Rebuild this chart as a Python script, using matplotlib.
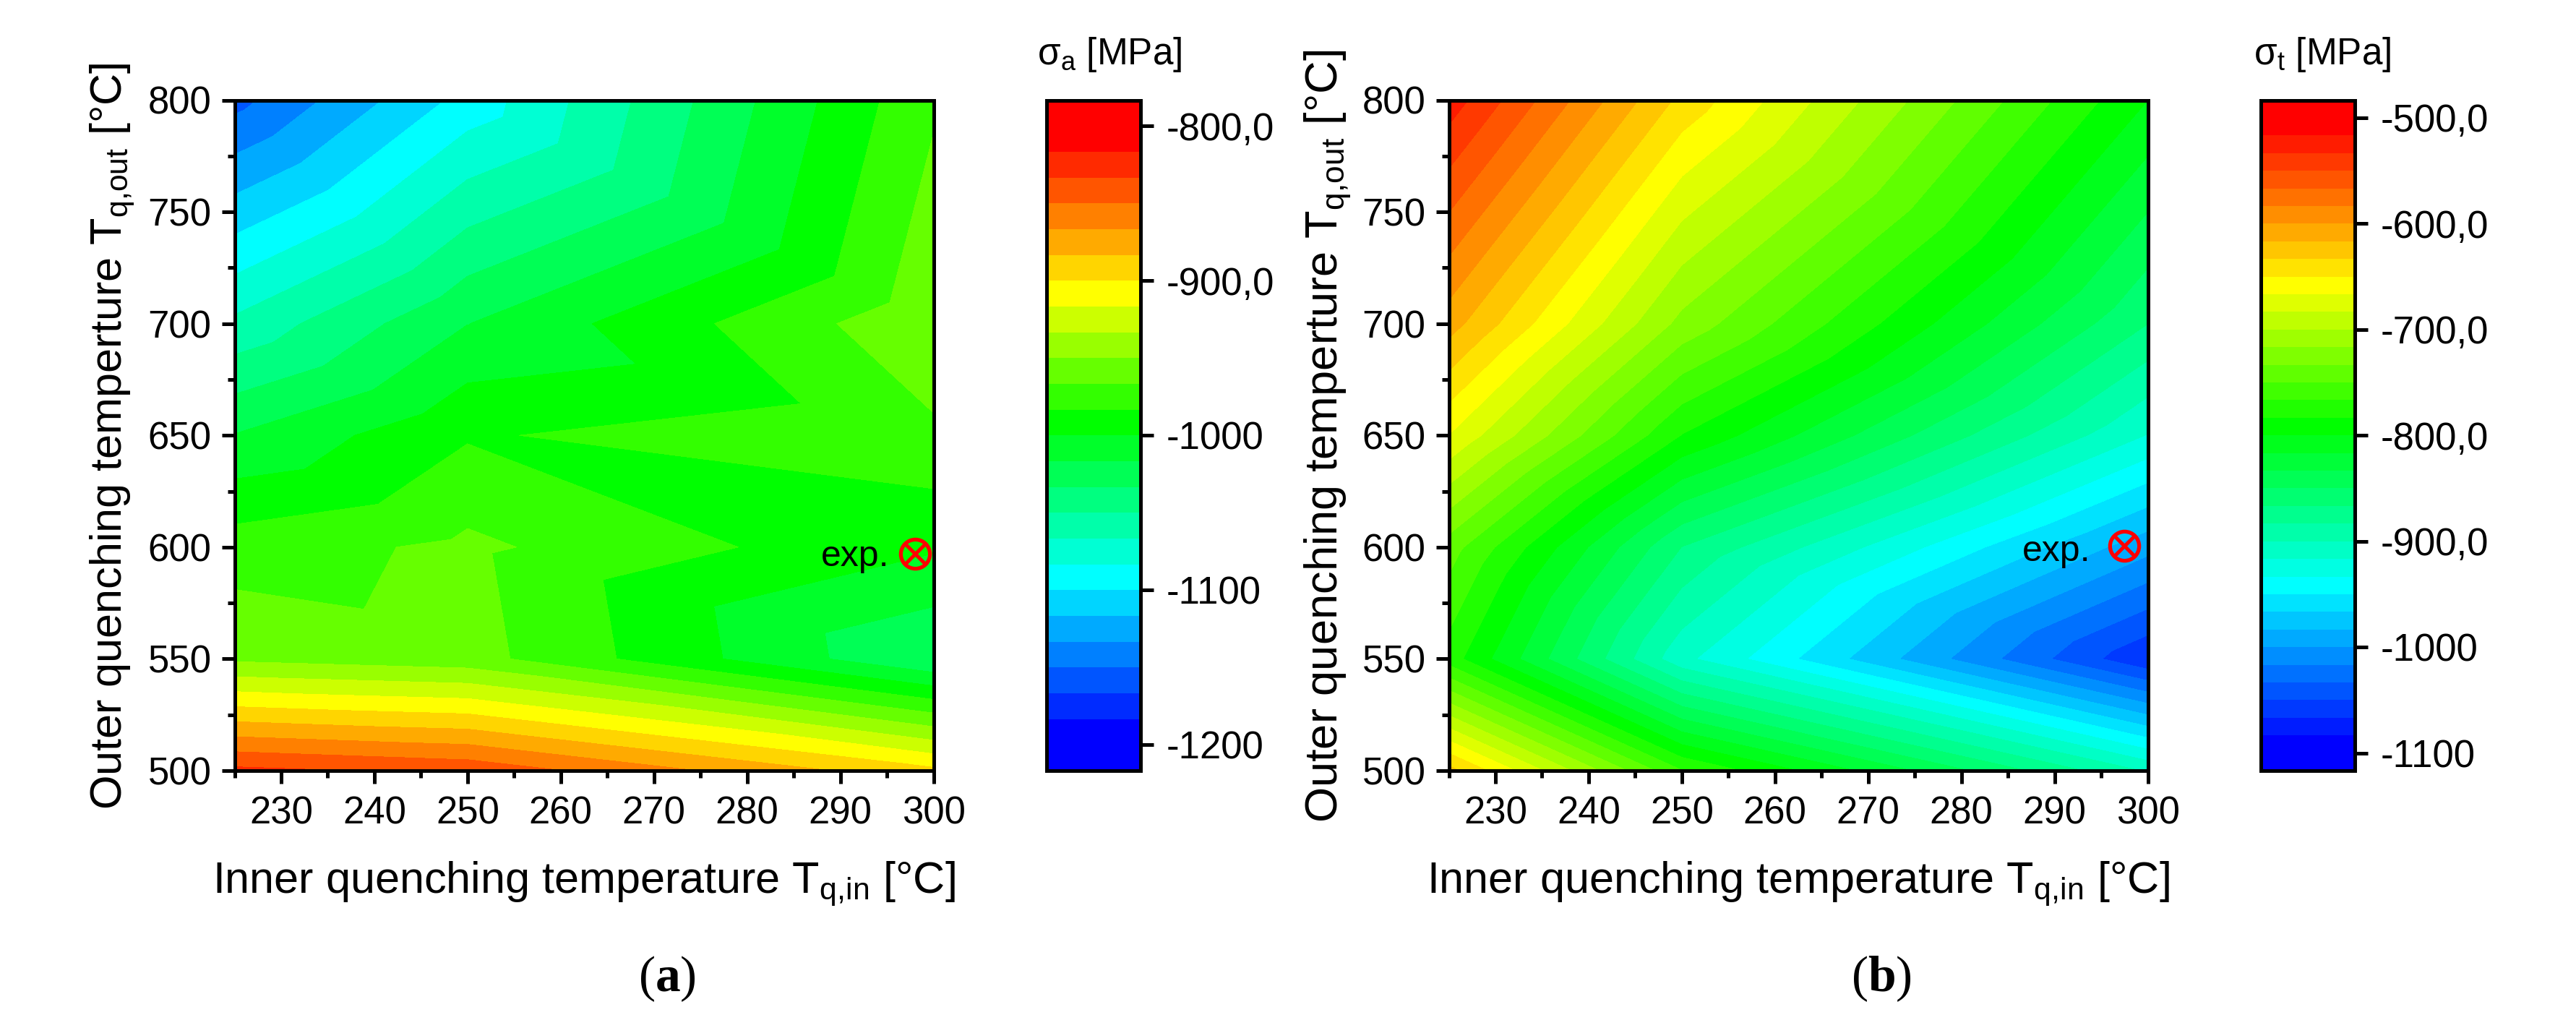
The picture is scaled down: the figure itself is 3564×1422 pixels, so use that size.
import numpy as np
import matplotlib
matplotlib.use('Agg')
import matplotlib.pyplot as plt
import matplotlib.tri as mtri
from matplotlib.ticker import MultipleLocator

plt.rcParams['font.family'] = ['Liberation Sans', 'DejaVu Sans']
plt.rcParams['mathtext.fontset'] = 'custom'
plt.rcParams['mathtext.rm'] = 'Liberation Sans'
plt.rcParams['mathtext.bf'] = 'Liberation Serif:bold'

t_in = [225, 250, 300]
t_out = [800, 700, 650, 600, 550, 500]

# axial stress, rows follow t_out, columns follow t_in
sigma_a = [[-1156, -1094, -969],
           [-1063, -1017, -953.5],
           [-1016, -985, -970],
           [-975, -963, -998],
           [-953, -960, -1033],
           [-829, -838, -896]]

# tangential stress
sigma_t = [[-524, -638, -800],
           [-609, -722, -866.5],
           [-667, -784, -917.5],
           [-742, -867, -994.5],
           [-775, -912, -1065],
           [-627, -766, -902]]

cbar_ticks_a = [-800, -900, -1000, -1100, -1200]
cbar_labels_a = ['-800,0', '-900,0', '-1000', '-1100', '-1200']
cbar_ticks_b = [-500, -600, -700, -800, -900, -1000, -1100]
cbar_labels_b = ['-500,0', '-600,0', '-700,0', '-800,0', '-900,0', '-1000', '-1100']

exp_a = (298, 597)
exp_b = (297.5, 600.5)

W, H = 3564, 1422
STEP = 50 / 3


def rect(x0, x1, y0, y1):
    return [x0 / W, 1 - y1 / H, (x1 - x0) / W, (y1 - y0) / H]


def band_colors(n, anchors):
    # blue - cyan - green - yellow - red, in n flat steps
    pos = [0, anchors[0] / (n - 1), anchors[1] / (n - 1), anchors[2] / (n - 1), 1]
    s = np.linspace(0, 1, n)
    r = np.interp(s, pos, [0, 0, 0, 1, 1])
    g = np.interp(s, pos, [0, 1, 1, 1, 0])
    b = np.interp(s, pos, [1, 1, 0, 0, 0])
    return list(zip(r, g, b))


def make_triangles():
    tris = []
    for j in range(len(t_out) - 1):
        for i in range(len(t_in) - 1):
            a = j * len(t_in) + i
            c = a + 1
            d = a + len(t_in)
            e = d + 1
            # diagonal runs from upper left to lower right
            tris.append([a, c, e])
            tris.append([a, d, e])
    return tris


def panel(x0, cx0, values, low, high, anchors, ticks, labels, name, sub, exp, exp_off, letter, ylab_x, ylab_size, xlab_c, cb_c):
    ax = fig.add_axes(rect(x0, x0 + 967, 138.5, 1066))
    xx, yy = np.meshgrid(t_in, t_out)
    tri = mtri.Triangulation(xx.ravel(), yy.ravel(), make_triangles())
    inner = np.arange(low + STEP * 2, high - STEP * 2 + 1, STEP)
    levels = np.r_[low, inner, high]
    colors = band_colors(len(levels) - 1, anchors)
    cf = ax.tricontourf(tri, np.array(values, dtype=float).ravel(), levels=levels,
                        colors=colors, antialiased=False)
    ax.set_xlim(225, 300)
    ax.set_ylim(500, 800)
    ax.set_xticks(range(230, 301, 10))
    ax.set_yticks(range(500, 801, 50))
    ax.xaxis.set_minor_locator(MultipleLocator(5))
    ax.yaxis.set_minor_locator(MultipleLocator(25))
    ax.tick_params(which='major', length=13, width=3.6, labelsize=38)
    ax.tick_params(which='minor', length=7, width=3.6)
    ax.tick_params(axis='x', which='major', pad=12)
    ax.tick_params(axis='y', which='major', pad=10)
    for s in ax.spines.values():
        s.set_linewidth(3.6)

    ax.plot(exp[0], exp[1], 'o', ms=29, mfc='none', mec='#ff0000', mew=3.8, clip_on=False)
    ax.plot(exp[0], exp[1], 'x', ms=19, mec='#ff0000', mew=3.6, clip_on=False)
    ax.text(exp[0] - exp_off[0], exp[1] - exp_off[1], 'exp.', ha='right', va='center', fontsize=36)

    fig.text(ylab_x / W, 1 - 603 / H, r'Outer quenching temperture T$_{\mathrm{q{,}out}}$ [°C]',
             rotation=90, ha='center', va='center', fontsize=ylab_size)
    fig.text(xlab_c / W, 1 - 1223 / H, r'Inner quenching temperature T$_{\mathrm{q{,}in}}$ [°C]',
             ha='center', va='center', fontsize=44)
    fig.text((x0 + 598) / W, 1 - 1354 / H, '(' + r'$\mathbf{' + letter + '}$' + ')',
             family='Liberation Serif', ha='center', va='center', fontsize=50)

    cax = fig.add_axes(rect(cx0, cx0 + 130, 138.5, 1066))
    cb = fig.colorbar(cf, cax=cax, spacing='proportional', ticks=ticks)
    cb.ax.minorticks_off()
    cb.set_ticks(ticks)
    cb.set_ticklabels(labels)
    cb.ax.tick_params(length=13, width=3.6, labelsize=38, pad=13)
    cb.outline.set_linewidth(3.6)
    fig.text(cb_c / W, 1 - 76 / H, name + r'$_{\mathrm{' + sub + '}}$ [MPa]',
             ha='center', va='center', fontsize=37)


fig = plt.figure(figsize=(W / 100, H / 100), dpi=100)

panel(324.5, 1448, sigma_a, -1216.67, -783.33, (6, 12, 17), cbar_ticks_a, cbar_labels_a,
      'σ', 'a', exp_a, (2.7, 1.2), 'a', 156, 44, 808, 1535)
panel(2004.5, 3128, sigma_t, -1116.67, -483.33, (9, 18, 26), cbar_ticks_b, cbar_labels_b,
      'σ', 't', exp_b, (3.6, 2.5), 'b', 1837, 45.5, 2488, 3213)

fig.savefig('out.png', dpi=100)
